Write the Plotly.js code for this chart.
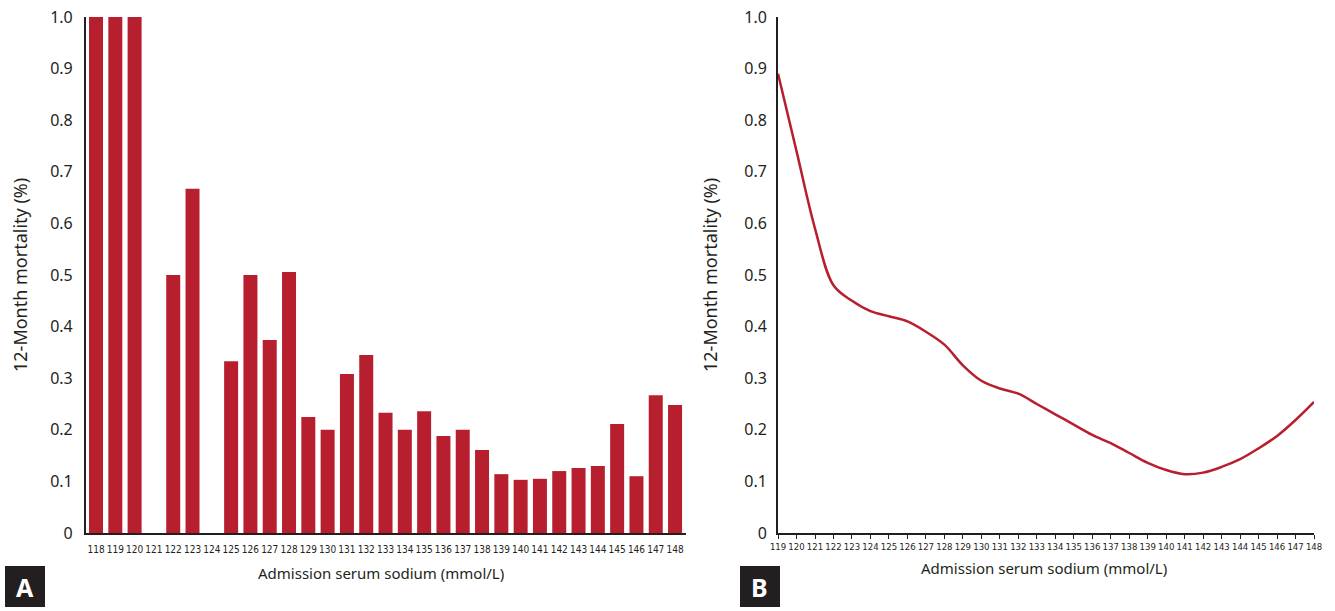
<!DOCTYPE html>
<html>
<head>
<meta charset="utf-8">
<script src="https://cdn.plot.ly/plotly-3.0.1.min.js"></script>
<style>html,body{margin:0;padding:0;background:#fff;}#chart{width:1335px;height:611px;}</style>
</head>
<body>
<div id="chart"></div>
<script>
// Panel A: observed 12-month mortality by admission serum sodium
const sodiumA = [118,119,120,121,122,123,124,125,126,127,128,129,130,131,132,133,134,135,136,137,138,139,140,141,142,143,144,145,146,147,148];
const mortalityA = [1.0,1.0,1.0,0,0.5,0.667,0,0.333,0.5,0.374,0.506,0.225,0.2,0.308,0.345,0.233,0.2,0.236,0.188,0.2,0.161,0.114,0.103,0.105,0.12,0.126,0.13,0.211,0.11,0.267,0.248];

// Panel B: smoothed 12-month mortality curve
const sodiumB = [119,120,121,122,123,124,125,126,127,128,129,130,131,132,133,134,135,136,137,138,139,140,141,142,143,144,145,146,147,148];
const mortalityB = [0.89,0.74,0.59,0.48,0.45,0.43,0.42,0.41,0.39,0.365,0.325,0.295,0.28,0.27,0.25,0.23,0.21,0.19,0.174,0.155,0.136,0.122,0.114,0.117,0.128,0.143,0.164,0.188,0.219,0.254];

const yTickVals = [0,0.1,0.2,0.3,0.4,0.5,0.6,0.7,0.8,0.9,1.0];
const yTickText = ['0','0.1','0.2','0.3','0.4','0.5','0.6','0.7','0.8','0.9','1.0'];
const yTitle = '12-Month mortality (%)';
const xTitle = 'Admission serum sodium (mmol/L)';
const panelLabels = ['A','B'];

const red = '#b81f2e';
const ink = '#231f20';
const mainFont = 'Noto Sans, Open Sans, sans-serif';
const narrowFont = 'Liberation Sans Narrow, DejaVu Sans Condensed, sans-serif';

const traces = [
  {type:'bar', x: sodiumA, y: mortalityA, marker:{color:red}, xaxis:'x', yaxis:'y', hoverinfo:'x+y'},
  {type:'scatter', mode:'lines', x: sodiumB, y: mortalityB, line:{color:red, width:2.5, shape:'spline', smoothing:1}, xaxis:'x2', yaxis:'y2'}
];

const yCommon = {
  range:[0,1.0], tickvals:yTickVals, ticktext:yTickText, showgrid:false, zeroline:false,
  showline:true, linecolor:ink, linewidth:2, ticks:'outside', ticklen:8, tickcolor:'rgba(0,0,0,0)',
  tickfont:{family:mainFont, size:16, color:ink},
  domain:[0.1277,0.9722], fixedrange:true
};

const P = (px) => px/1335;
const Q = (py) => (611-py)/611;

const layout = {
  width:1335, height:611,
  margin:{l:0,r:0,t:0,b:0},
  paper_bgcolor:'#fff', plot_bgcolor:'#fff',
  showlegend:false, bargap:0.275,
  xaxis:{
    domain:[0.0644,0.5139], range:[117.48,148.57],
    tickvals:sodiumA, ticktext:sodiumA.map(String),
    tickfont:{family:narrowFont, size:10, color:ink}, tickangle:0,
    ticks:'outside', ticklen:6, tickcolor:'rgba(0,0,0,0)',
    showline:true, linecolor:ink, linewidth:2, showgrid:false, zeroline:false,
    anchor:'y'
  },
  yaxis: Object.assign({}, yCommon, {anchor:'x'}),
  xaxis2:{
    domain:[0.5828,0.9843], range:[119,148],
    tickvals:sodiumB, ticktext:sodiumB.map(String),
    tickfont:{family:narrowFont, size:9.5, color:ink}, tickangle:0,
    ticks:'outside', ticklen:4, tickcolor:ink, tickwidth:1,
    showline:true, linecolor:ink, linewidth:2, showgrid:false, zeroline:false,
    anchor:'y2'
  },
  yaxis2: Object.assign({}, yCommon, {anchor:'x2', ticklen:6}),
  shapes:[
    {type:'rect', xref:'paper', yref:'paper', x0:P(5), x1:P(45), y0:Q(607), y1:Q(566), fillcolor:ink, line:{width:0}},
    {type:'rect', xref:'paper', yref:'paper', x0:P(740), x1:P(780), y0:Q(607), y1:Q(566), fillcolor:ink, line:{width:0}}
  ],
  annotations:[
    {text:xTitle, xref:'paper', yref:'paper', x:P(381), y:Q(573), showarrow:false, font:{family:mainFont, size:15, color:ink}, xanchor:'center', yanchor:'middle'},
    {text:xTitle, xref:'paper', yref:'paper', x:P(1044), y:Q(568), showarrow:false, font:{family:mainFont, size:15, color:ink}, xanchor:'center', yanchor:'middle'},
    {text:yTitle, xref:'paper', yref:'paper', x:P(20), y:Q(275), showarrow:false, textangle:-90, font:{family:mainFont, size:18, color:ink}, xanchor:'center', yanchor:'middle'},
    {text:yTitle, xref:'paper', yref:'paper', x:P(710), y:Q(275), showarrow:false, textangle:-90, font:{family:mainFont, size:18, color:ink}, xanchor:'center', yanchor:'middle'},
    {text:'<b>'+panelLabels[0]+'</b>', xref:'paper', yref:'paper', x:P(25), y:Q(586.5), showarrow:false, font:{family:mainFont, size:25, color:'#fff'}, xanchor:'center', yanchor:'middle'},
    {text:'<b>'+panelLabels[1]+'</b>', xref:'paper', yref:'paper', x:P(760), y:Q(586.5), showarrow:false, font:{family:mainFont, size:25, color:'#fff'}, xanchor:'center', yanchor:'middle'}
  ]
};

Plotly.newPlot('chart', traces, layout, {displayModeBar:false, staticPlot:true});
</script>
</body>
</html>
